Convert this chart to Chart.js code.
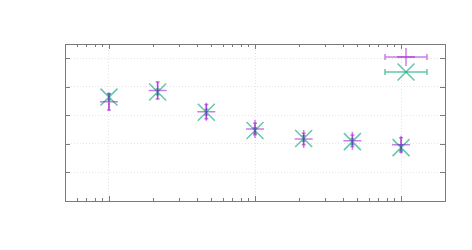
<!DOCTYPE html>
<html>
<head>
<meta charset="utf-8">
<script src="https://cdn.jsdelivr.net/npm/chart.js@4/dist/chart.umd.min.js"></script>
<style>
  body { margin: 0; background: #fff; }
</style>
</head>
<body>
<canvas id="plot" width="472" height="250"></canvas>
<script>
// x positions (log axis), one per measurement
const xValues = [1, 2.154, 4.642, 10, 21.54, 46.42, 100];

// first series (purple +)
const purpleY = [3.48, 3.87, 3.13, 2.52, 2.17, 2.11, 1.97];
const purpleErr = [0.29, 0.3, 0.25, 0.2, 0.2, 0.2, 0.25];

// second series (green x)
const tealY = [3.64, 3.82, 3.11, 2.47, 2.19, 2.08, 1.87];
const tealErr = [0.1, 0.1, 0.1, 0.1, 0.1, 0.1, 0.1];

// grid / tick values
const yTicks = [1, 2, 3, 4, 5];
const xMajor = [1, 10, 100];
const xMinor = [0.6, 0.7, 0.8, 0.9, 2, 3, 4, 5, 6, 7, 8, 9, 20, 30, 40, 50, 60, 70, 80, 90];

const purple = 'rgba(148, 0, 211, 0.5)';
const teal = 'rgba(0, 158, 115, 0.6)';
const frameColor = '#7a7a7a';

function toPoints(ys) {
    return xValues.map((x, i) => ({ x: x, y: ys[i] }));
}

// draws y error bars with small caps, through the chart scales
function drawErrors(chart, idx, errs, color, cap) {
    const ctx = chart.ctx;
    const xs = chart.scales.x;
    const ys = chart.scales.y;
    const data = chart.data.datasets[idx].data;
    ctx.save();
    ctx.strokeStyle = color;
    ctx.lineWidth = 1.5;
    for (let i = 0; i < data.length; i++) {
        const px = xs.getPixelForValue(data[i].x);
        const y1 = ys.getPixelForValue(data[i].y - errs[i]);
        const y2 = ys.getPixelForValue(data[i].y + errs[i]);
        ctx.beginPath();
        ctx.moveTo(px, y1);
        ctx.lineTo(px, y2);
        ctx.moveTo(px - cap, y1);
        ctx.lineTo(px + cap, y1);
        ctx.moveTo(px - cap, y2);
        ctx.lineTo(px + cap, y2);
        ctx.stroke();
    }
    ctx.restore();
}

const framePlugin = {
    id: 'frame',
    beforeDatasetsDraw(chart) {
        drawErrors(chart, 0, purpleErr, purple, 2);
        drawErrors(chart, 1, tealErr, teal, 2);
    },
    afterDraw(chart) {
        const ctx = chart.ctx;
        const a = chart.chartArea;
        const xs = chart.scales.x;
        const ys = chart.scales.y;
        ctx.save();
        ctx.strokeStyle = frameColor;
        ctx.lineWidth = 1;
        ctx.strokeRect(Math.round(a.left) + 0.5, Math.round(a.top) + 0.5,
            Math.round(a.right - a.left), Math.round(a.bottom - a.top));

        // inward ticks
        ctx.beginPath();
        yTicks.forEach(v => {
            const py = Math.round(ys.getPixelForValue(v)) + 0.5;
            ctx.moveTo(a.left, py); ctx.lineTo(a.left + 5, py);
            ctx.moveTo(a.right, py); ctx.lineTo(a.right - 5, py);
        });
        xMajor.forEach(v => {
            const px = Math.round(xs.getPixelForValue(v)) + 0.5;
            ctx.moveTo(px, a.bottom); ctx.lineTo(px, a.bottom - 5);
            ctx.moveTo(px, a.top); ctx.lineTo(px, a.top + 5);
        });
        xMinor.forEach(v => {
            const px = Math.round(xs.getPixelForValue(v)) + 0.5;
            ctx.moveTo(px, a.bottom); ctx.lineTo(px, a.bottom - 3);
            ctx.moveTo(px, a.top); ctx.lineTo(px, a.top + 3);
        });
        ctx.stroke();

        // key, top right, no labels
        const kx1 = a.right - 60, kx2 = a.right - 18, kc = (kx1 + kx2) / 2;
        const rows = [
            { y: a.top + 13, color: purple, style: 'cross', r: 9 },
            { y: a.top + 28, color: teal, style: 'crossRot', r: 12 }
        ];
        rows.forEach(row => {
            ctx.strokeStyle = row.color;
            ctx.lineWidth = 1.5;
            ctx.beginPath();
            ctx.moveTo(kx1, row.y); ctx.lineTo(kx2, row.y);
            ctx.moveTo(kx1, row.y - 3); ctx.lineTo(kx1, row.y + 3);
            ctx.moveTo(kx2, row.y - 3); ctx.lineTo(kx2, row.y + 3);
            ctx.stroke();
            Chart.helpers.drawPoint(ctx, { pointStyle: row.style, radius: row.r, borderWidth: 1.5 }, kc, row.y);
        });
        ctx.restore();
    }
};

new Chart(document.getElementById('plot'), {
    type: 'scatter',
    data: {
        datasets: [{
            data: toPoints(purpleY),
            pointStyle: 'cross',
            pointRadius: 9,
            borderColor: purple,
            backgroundColor: purple,
            borderWidth: 1.5
        }, {
            data: toPoints(tealY),
            pointStyle: 'crossRot',
            pointRadius: 12,
            borderColor: teal,
            backgroundColor: teal,
            borderWidth: 1.5
        }]
    },
    options: {
        responsive: false,
        animation: false,
        devicePixelRatio: 1,
        layout: { padding: { left: 65, right: 27, top: 44, bottom: 49 } },
        plugins: { legend: { display: false }, tooltip: { enabled: false } },
        scales: {
            x: {
                type: 'logarithmic',
                min: 0.5,
                max: 200,
                afterBuildTicks: axis => { axis.ticks = xMajor.map(v => ({ value: v })); },
                ticks: { display: false },
                grid: { color: '#e4e4e4', drawTicks: false, lineWidth: 1 },
                border: { display: false, dash: [1, 2] }
            },
            y: {
                min: 0,
                max: 5.5,
                afterBuildTicks: axis => { axis.ticks = yTicks.map(v => ({ value: v })); },
                ticks: { display: false },
                grid: { color: '#e4e4e4', drawTicks: false, lineWidth: 1 },
                border: { display: false, dash: [1, 2] }
            }
        }
    },
    plugins: [framePlugin]
});
</script>
</body>
</html>
